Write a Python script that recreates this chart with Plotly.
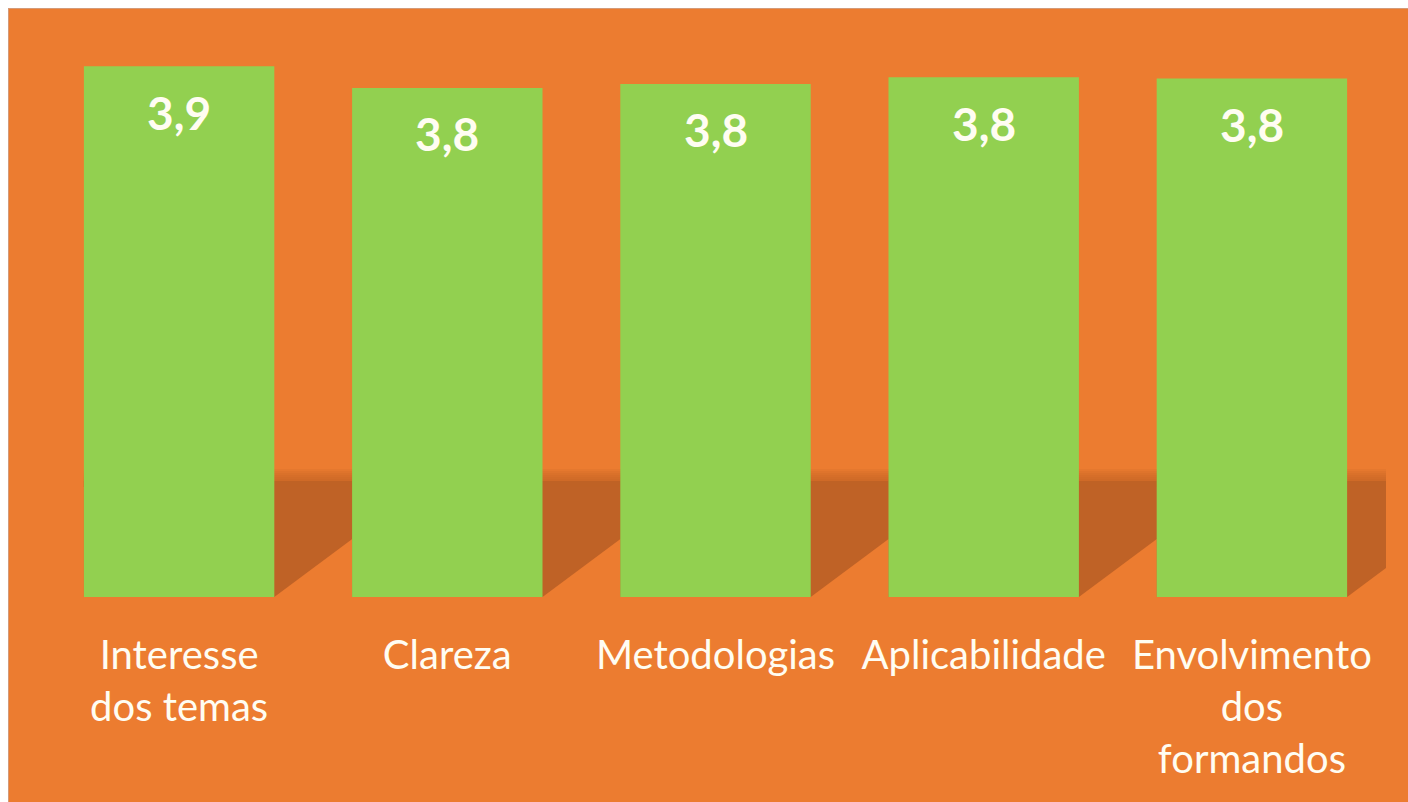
import plotly.graph_objects as go

# ---- data ----
categories = ["Interesse dos temas", "Clareza", "Metodologias", "Aplicabilidade", "Envolvimento dos formandos"]
tick_labels = ["Interesse<br>dos temas", "Clareza", "Metodologias", "Aplicabilidade", "Envolvimento<br>dos<br>formandos"]
values = [3.92, 3.76, 3.79, 3.84, 3.83]

ORANGE = "#EC7C30"
GREEN = "#92D050"
SHADOW = "#BF6226"
TEXT = "#FFFDF2"

# figure placed 8px from top/left of the window (white border), filling the rest
W, H = 1400, 794
ML, MR, MT, MB = 37, 22, 12, 205
pw = W - ML - MR
ph = H - MT - MB
YMAX = 4.262
BARGAP = 0.29

fig = go.Figure()
fig.add_trace(go.Bar(
    x=list(range(len(categories))), y=values,
    marker=dict(color=GREEN, line=dict(width=0)),
    hovertext=categories, hoverinfo="text+y",
))

# value labels inside the bars near the top
for i, v in enumerate(values):
    fig.add_annotation(x=i, y=v, text=f"{v:.1f}".replace(".", ","), showarrow=False,
                       yshift=-46, yanchor="middle",
                       font=dict(family="Lato", size=46, color=TEXT, weight="bold"))

px_x = len(categories) / pw
px_y = YMAX / ph
half = (1 - BARGAP) / 2

shapes = []
# thin edge on top/left of the picture
shapes.append(dict(type="line", xref="paper", yref="paper", x0=-ML / pw, x1=1 + MR / pw,
                   y0=1 + MT / ph, y1=1 + MT / ph, line=dict(color="#D49A78", width=2), layer="below"))
shapes.append(dict(type="line", xref="paper", yref="paper", x0=-ML / pw, x1=-ML / pw,
                   y0=-MB / ph, y1=1 + MT / ph, line=dict(color="#D49A78", width=2), layer="below"))

# soft shadows behind bars
top = 116 * px_y
ext = 90 * px_x
low = 67 * px_y
for i, v in enumerate(values):
    l, r = i - half, i + half
    path = f"M {l},0 L {l},{top} L {r+ext},{top} L {r+ext},{low} L {r},0 Z"
    shapes.append(dict(type="path", path=path, xref="x", yref="y", fillcolor=SHADOW,
                       line=dict(width=0), layer="below"))
    for d in [2, 4, 6, 8, 10, 12]:
        shapes.append(dict(type="rect", xref="x", yref="y", x0=l, x1=r + ext,
                           y0=top - 6 * px_y, y1=top + d * px_y, fillcolor=SHADOW, opacity=0.16,
                           line=dict(width=0), layer="below"))

fig.update_layout(
    width=W, height=H,
    margin=dict(l=ML, r=MR, t=MT, b=MB),
    paper_bgcolor=ORANGE, plot_bgcolor="rgba(0,0,0,0)",
    bargap=BARGAP, showlegend=False,
    shapes=shapes,
    xaxis=dict(tickvals=list(range(len(categories))), ticktext=tick_labels,
               range=[-0.5, len(categories) - 0.5], showgrid=False, zeroline=False,
               showline=False, ticks="", ticklabelstandoff=31,
               tickfont=dict(family="Lato", size=40, color=TEXT)),
    yaxis=dict(range=[0, YMAX], visible=False, showgrid=False, zeroline=False),
)
fig.write_html("out.html",
               post_script="document.body.style.margin='8px 0 0 8px';document.body.style.overflow='hidden';")
